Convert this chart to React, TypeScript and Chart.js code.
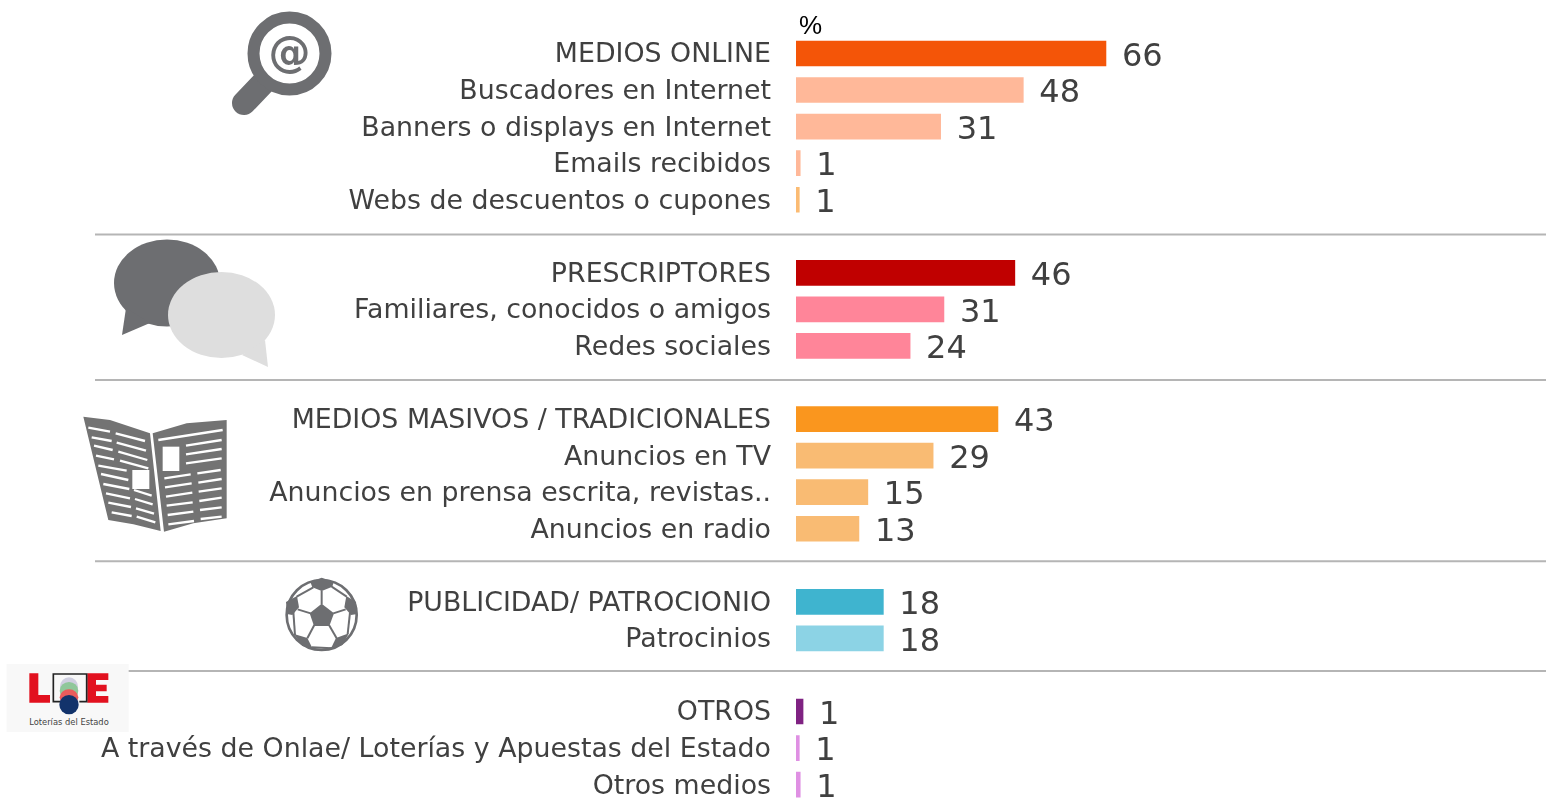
import React, { useEffect, useRef } from "react";
import { Chart, registerables } from "chart.js";

Chart.register(...registerables);

const categories = [
  "MEDIOS ONLINE", "Buscadores en Internet", "Banners o displays en Internet", "Emails recibidos", "Webs de descuentos o cupones", "",
  "PRESCRIPTORES", "Familiares, conocidos o amigos", "Redes sociales", "",
  "MEDIOS MASIVOS / TRADICIONALES", "Anuncios en TV", "Anuncios en prensa escrita, revistas..", "Anuncios en radio", "",
  "PUBLICIDAD/ PATROCIONIO", "Patrocinios", "",
  "OTROS", "A través de Onlae/ Loterías y Apuestas del Estado", "Otros medios",
];
const barLengths = [66, 48.4, 30.8, 0.9, 0.7, null, 46.6, 31.5, 24.3, null, 43, 29.2, 15.3, 13.4, null, 18.6, 18.6, null, 1.5, 0.7, 0.9];
const valueLabels = ["66", "48", "31", "1", "1", "", "46", "31", "24", "", "43", "29", "15", "13", "", "18", "18", "", "1", "1", "1"];
const barColors = [
  "#F45508", "#FFB899", "#FFB899", "#FFB899", "#FBBB73", "#fff",
  "#C00000", "#FF8599", "#FF8599", "#fff",
  "#FA961E", "#F9BB73", "#F9BB73", "#F9BB73", "#fff",
  "#3FB4CF", "#8CD3E5", "#fff",
  "#7F2282", "#DF90E3", "#DF90E3",
];
const separatorRows = [4.95, 8.93, 13.89, 16.89];
const unitLabel = "%";

const FONT = '"DejaVu Sans", Verdana, sans-serif';
const GREY = "#6D6E71";

const overlayPlugin = {
  id: "overlay",
  afterDatasetsDraw(chart: any) {
    const { ctx, scales } = chart;
    const meta = chart.getDatasetMeta(0);
    ctx.save();
    ctx.strokeStyle = "#B5B5B5";
    ctx.lineWidth = 2;
    separatorRows.forEach((r) => {
      const y = scales.y.getPixelForValue(r);
      ctx.beginPath();
      ctx.moveTo(95, y);
      ctx.lineTo(chart.width, y);
      ctx.stroke();
    });
    ctx.fillStyle = "#404040";
    ctx.font = `32px ${FONT}`;
    ctx.textAlign = "left";
    ctx.textBaseline = "middle";
    meta.data.forEach((bar: any, i: number) => {
      if (valueLabels[i]) ctx.fillText(valueLabels[i], bar.x + 16, bar.y + 4);
    });
    ctx.fillStyle = "#000";
    ctx.font = '26px "Liberation Sans", sans-serif';
    ctx.fillText(unitLabel, scales.x.getPixelForValue(0) + 3, scales.y.getPixelForValue(0) - 27);
    ctx.restore();
  },
};

const newsLines = [
  [55, 68, 120, 80], [65, 97, 125, 108], [72, 122, 128, 135], [78, 152, 132, 163], [85, 182, 170, 197],
  [93, 207, 175, 225], [100, 237, 178, 252], [108, 265, 180, 280], [115, 293, 183, 306], [125, 322, 185, 333],
  [137, 85, 225, 108], [140, 113, 228, 137], [145, 140, 232, 165], [150, 167, 235, 190],
  [192, 255, 245, 272], [195, 282, 248, 298], [198, 310, 252, 326], [200, 335, 256, 352],
  [265, 105, 458, 75], [348, 122, 455, 105], [348, 148, 455, 132], [348, 175, 455, 160],
  [283, 220, 362, 208], [285, 247, 365, 235], [288, 275, 367, 263], [290, 302, 368, 292], [293, 330, 370, 320], [295, 358, 372, 348],
  [382, 205, 452, 195], [385, 233, 455, 222], [386, 260, 455, 250], [388, 288, 455, 278], [390, 315, 455, 307], [392, 342, 455, 335],
];
const ballPatches = [
  "140,101 177,130 163,168 117,168 104,130",
  "106,35 140,23 176,35 172,50 140,63 112,52",
  "33,96 66,78 72,112 52,135 36,132",
  "214,78 243,96 247,132 228,135 208,112",
  "57,192 97,204 113,236 82,228",
  "183,204 222,190 202,225 167,237",
];
const ballSeams = [
  [140, 103, 140, 62], [107, 130, 68, 118], [175, 130, 212, 118], [118, 165, 97, 205], [162, 165, 185, 205],
  [55, 125, 60, 195], [225, 128, 218, 192], [115, 52, 65, 80], [170, 50, 215, 80], [110, 232, 170, 235],
];

function Icons() {
  return (
    <svg width={1546} height={798} style={{ position: "absolute", left: 0, top: 0, pointerEvents: "none" }}>
      {/* magnifier */}
      <line x1={266} y1={80} x2={244} y2={103} stroke={GREY} strokeWidth={24} strokeLinecap="round" />
      <circle cx={289.5} cy={53.5} r={36} fill="#fff" stroke={GREY} strokeWidth={12} />
      <text x={289.5} y={67} textAnchor="middle" fontFamily={FONT} fontWeight="bold" fontSize={42} fill={GREY}>@</text>
      {/* speech bubbles */}
      <ellipse cx={167} cy={283} rx={53} ry={43.5} fill={GREY} />
      <polygon points="126,308 122,335 150,323" fill={GREY} />
      <ellipse cx={221.5} cy={315} rx={53.5} ry={43} fill="#DEDEDE" />
      <polygon points="242,355 268,367 265,340" fill="#DEDEDE" />
      {/* newspaper */}
      <g transform="translate(70 405) scale(0.33333)">
        <polygon points="40,35 120,45 240,85 272,378 190,358 115,345" fill="#737373" />
        <polygon points="248,85 350,55 470,45 470,340 370,355 282,380" fill="#737373" />
        <rect x={278} y={125} width={50} height={73} fill="#fff" />
        <rect x={187} y={195} width={51} height={57} fill="#fff" />
        {newsLines.map((l, i) => (
          <line key={i} x1={l[0]} y1={l[1]} x2={l[2]} y2={l[3]} stroke="#fff" strokeWidth={7} />
        ))}
      </g>
      {/* football */}
      <g transform="translate(275 570) scale(0.33333)">
        <circle cx={140} cy={135} r={105} fill="#fff" stroke={GREY} strokeWidth={8} />
        {ballPatches.map((p, i) => <polygon key={i} points={p} fill={GREY} />)}
        {ballSeams.map((l, i) => (
          <line key={i} x1={l[0]} y1={l[1]} x2={l[2]} y2={l[3]} stroke={GREY} strokeWidth={6} />
        ))}
      </g>
      {/* logo */}
      <g transform="translate(0 660) scale(0.33333)">
        <rect x={20} y={12} width={365} height={203} fill="#F8F8F8" />
        <polygon points="88,40 115,40 115,105 150,105 150,128 88,128" fill="#E2111F" />
        <polygon points="262,40 325,40 325,60 288,60 288,74 320,74 320,94 288,94 288,108 325,108 325,128 262,128" fill="#E2111F" />
        <polyline points="180,125 160,125 160,42 260,42 260,125 238,125" fill="none" stroke="#222" strokeWidth={5} />
        <ellipse cx={207} cy={80} rx={27} ry={28} fill="#CFCFE0" />
        <ellipse cx={207} cy={92} rx={28} ry={26} fill="#8FC79A" />
        <ellipse cx={207} cy={112} rx={28} ry={24} fill="#E85C5C" />
        <circle cx={207} cy={134} r={29} fill="#12336B" />
        <text x={207} y={194} textAnchor="middle" fontFamily={FONT} fontSize={25} fill="#444">Loterías del Estado</text>
      </g>
    </svg>
  );
}

export default function App() {
  const ref = useRef<HTMLCanvasElement | null>(null);
  useEffect(() => {
    const chart = new Chart(ref.current as HTMLCanvasElement, {
      type: "bar",
      data: {
        labels: categories,
        datasets: [{ data: barLengths as any, backgroundColor: barColors, barThickness: 25 }],
      },
      plugins: [overlayPlugin],
      options: {
        indexAxis: "y",
        animation: false,
        responsive: false,
        layout: { padding: { top: 35.2, bottom: 0, left: 0, right: 0 } },
        plugins: { legend: { display: false }, tooltip: { enabled: false } },
        scales: {
          x: { display: false, min: 0, max: 159.7 },
          y: {
            afterFit: (s: any) => { s.width = 796; },
            grid: { display: false },
            border: { display: false },
            ticks: {
              autoSkip: false,
              padding: 17,
              labelOffset: 2,
              color: "#404040",
              font: { family: FONT, size: 26.8 },
            },
          },
        },
      },
    } as any);
    return () => chart.destroy();
  }, []);
  return (
    <div style={{ position: "fixed", left: 0, top: 0, width: 1546, height: 798, overflow: "hidden", background: "#fff" }}>
      <canvas ref={ref} width={1546} height={836} style={{ display: "block" }} />
      <Icons />
    </div>
  );
}
